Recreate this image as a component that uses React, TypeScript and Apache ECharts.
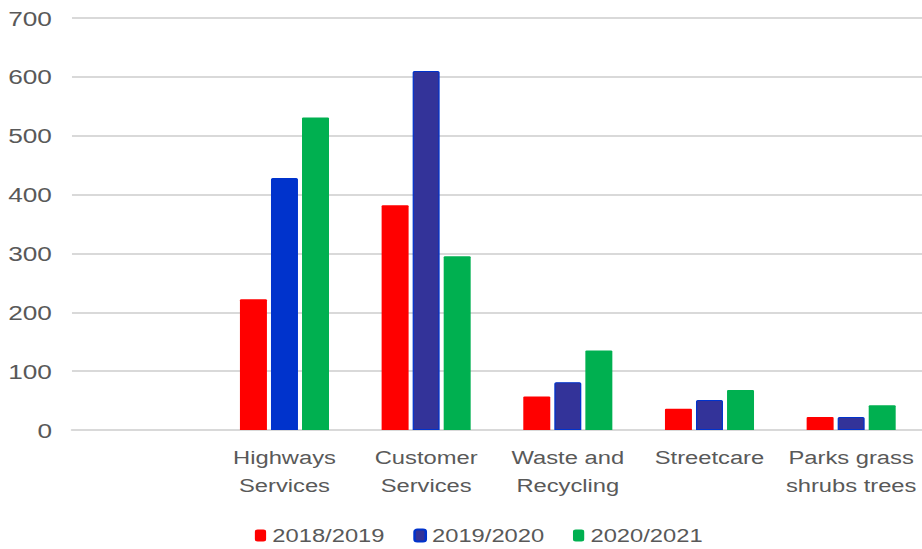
import React, { useEffect, useRef } from "react";
import * as echarts from "echarts";

const categories = [
  "",
  "Highways\nServices",
  "Customer\nServices",
  "Waste and\nRecycling",
  "Streetcare",
  "Parks grass\nshrubs trees",
];
const seriesNames = ["2018/2019", "2019/2020", "2020/2021"];
const values2018 = [null, 222, 382, 57, 36, 22];
const values2019 = [null, 428, 610, 81, 51, 22];
const values2020 = [null, 531, 295, 135, 68, 42];
const yTicks = { min: 0, max: 700, interval: 100 };

const FULL_W = 922;
const FULL_H = 549;
const BASE_W = 738;
const SX = FULL_W / BASE_W;

export default function App() {
  const ref = useRef<HTMLDivElement>(null);
  useEffect(() => {
    if (!ref.current) return;
    const chart = echarts.init(ref.current, undefined, { renderer: "svg" });
    const font = "'Liberation Sans', Arial, sans-serif";
    chart.setOption({
      animation: false,
      textStyle: { fontFamily: font },
      grid: { left: 57.6, right: -3.2, top: 18, bottom: 119, containLabel: false },
      legend: {
        data: seriesNames,
        left: 204,
        top: 526,
        padding: 0,
        itemWidth: 9,
        itemHeight: 12,
        itemGap: 23,
        textStyle: { fontSize: 19, color: "#595959", fontFamily: font },
      },
      xAxis: {
        type: "category",
        data: categories,
        axisTick: { show: false },
        axisLine: { lineStyle: { color: "#D9D9D9", width: 2 } },
        axisLabel: {
          fontSize: 19,
          color: "#595959",
          lineHeight: 28,
          margin: 14,
          interval: 0,
          fontFamily: font,
        },
      },
      yAxis: {
        type: "value",
        min: yTicks.min,
        max: yTicks.max,
        interval: yTicks.interval,
        axisLine: { show: false },
        axisTick: { show: false },
        axisLabel: { fontSize: 21, color: "#595959", margin: 16, fontFamily: font },
        splitLine: { lineStyle: { color: "#D9D9D9", width: 2 } },
      },
      series: [
        {
          name: seriesNames[0],
          type: "bar",
          data: values2018,
          barWidth: 21.6,
          barGap: "15%",
          itemStyle: { color: "#FF0000", borderRadius: [1, 1, 0, 0] },
        },
        {
          name: seriesNames[1],
          type: "bar",
          data: values2019.map((v, i) =>
            i === 1
              ? { value: v, itemStyle: { color: "#0033CC" } }
              : v
          ),
          barWidth: 21.6,
          barGap: "15%",
          itemStyle: {
            color: "#333399",
            borderColor: "#0033CC",
            borderWidth: 1,
            borderRadius: [1, 1, 0, 0],
          },
        },
        {
          name: seriesNames[2],
          type: "bar",
          data: values2020,
          barWidth: 21.6,
          barGap: "15%",
          itemStyle: { color: "#00B050", borderRadius: [1, 1, 0, 0] },
        },
      ],
    });
    return () => chart.dispose();
  }, []);
  return (
    <div
      style={{
        position: "fixed",
        left: 0,
        top: 0,
        width: FULL_W,
        height: FULL_H,
        overflow: "hidden",
        background: "#fff",
      }}
    >
      <div
        ref={ref}
        style={{
          width: BASE_W,
          height: FULL_H,
          transform: `scaleX(${SX})`,
          transformOrigin: "0 0",
        }}
      />
    </div>
  );
}
